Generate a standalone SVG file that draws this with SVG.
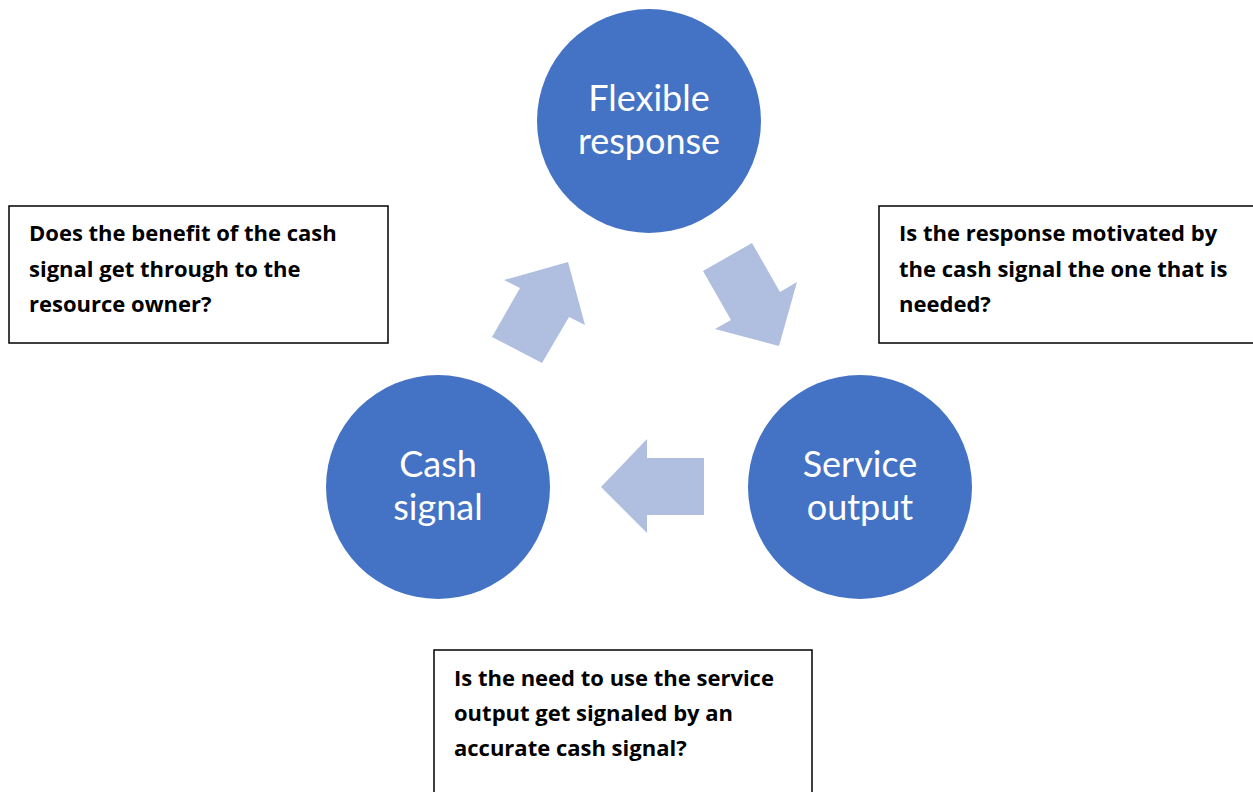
<svg xmlns="http://www.w3.org/2000/svg" width="1253" height="792" viewBox="0 0 1253 792">
  <style>
    .node-circle { fill: #4472C4; }
    .node-label { fill: #ffffff; font-family: Lato, "Open Sans", "Liberation Sans", sans-serif; font-size: 36px; text-anchor: middle; }
    .flow-arrow { fill: #B0BEE0; }
    .note-box { fill: #ffffff; stroke: #000000; stroke-width: 1.5; }
    .note-text { fill: #000000; font-family: "Open Sans", Lato, "Liberation Sans", sans-serif; font-weight: bold; font-size: 22px; }
  </style>
  <rect width="1253" height="792" fill="#ffffff"/>

  <!-- cycle arrows -->
  <g id="connectors">
    <polygon class="flow-arrow" points="568,262 585,325 569,317 542,363 492,337 520,288 504,280"/>
    <polygon class="flow-arrow" points="703,271 752,243 780,292 797,282 779,346 715,329 731,320"/>
    <polygon class="flow-arrow" points="601,487 647,439 647,458 704,458 704,515 647,515 647,533"/>
  </g>

  <g id="flexible-response">
    <circle class="node-circle" cx="649" cy="121" r="112"/>
    <text class="node-label" x="649" y="111">Flexible</text>
    <text class="node-label" x="649" y="154">response</text>
  </g>

  <g id="cash-signal">
    <circle class="node-circle" cx="438" cy="487" r="112"/>
    <text class="node-label" x="438" y="477">Cash</text>
    <text class="node-label" x="438" y="520">signal</text>
  </g>

  <g id="service-output">
    <circle class="node-circle" cx="860" cy="487" r="112"/>
    <text class="node-label" x="860" y="477">Service</text>
    <text class="node-label" x="860" y="520">output</text>
  </g>

  <g id="note-benefit">
    <rect class="note-box" x="9" y="206" width="379" height="137"/>
    <text class="note-text" x="29" y="241">Does the benefit of the cash</text>
    <text class="note-text" x="29" y="277">signal get through to the</text>
    <text class="note-text" x="29" y="312">resource owner?</text>
  </g>

  <g id="note-response">
    <rect class="note-box" x="879" y="206" width="380" height="137"/>
    <text class="note-text" x="899" y="241">Is the response motivated by</text>
    <text class="note-text" x="899" y="277">the cash signal the one that is</text>
    <text class="note-text" x="899" y="312">needed?</text>
  </g>

  <g id="note-need">
    <rect class="note-box" x="434" y="650" width="378" height="160"/>
    <text class="note-text" x="454" y="686">Is the need to use the service</text>
    <text class="note-text" x="454" y="721">output get signaled by an</text>
    <text class="note-text" x="454" y="756">accurate cash signal?</text>
  </g>
</svg>
